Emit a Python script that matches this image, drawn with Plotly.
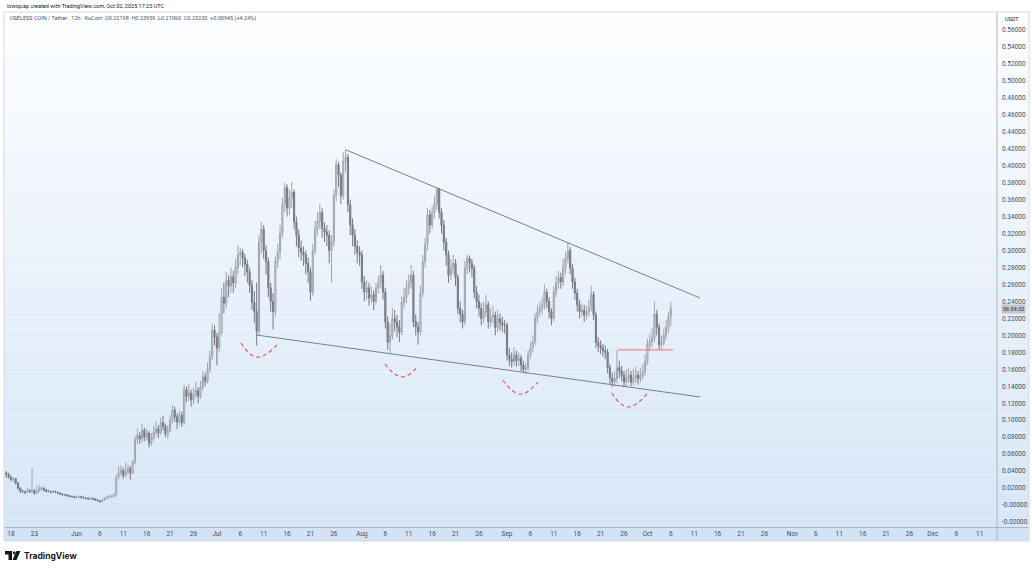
import pandas as pd
import plotly.graph_objects as go

# USELESS COIN / USDT, KuCoin, 12h candles
opens = [
    0.038, 0.036, 0.033, 0.030, 0.031, 0.026, 0.020, 0.016, 0.016, 0.015,
    0.017, 0.016, 0.017, 0.014, 0.016, 0.019, 0.020, 0.018, 0.016, 0.016,
    0.015, 0.016, 0.015, 0.014, 0.013, 0.012, 0.012, 0.011, 0.010, 0.010,
    0.009, 0.009, 0.010, 0.009, 0.008, 0.008, 0.007, 0.008, 0.007, 0.006,
    0.005, 0.004, 0.006, 0.008, 0.009, 0.010, 0.010, 0.012, 0.033, 0.038,
    0.041, 0.035, 0.040, 0.043, 0.038, 0.050, 0.077, 0.082, 0.078, 0.088,
    0.080, 0.085, 0.073, 0.079, 0.086, 0.090, 0.085, 0.097, 0.093, 0.084,
    0.088, 0.100, 0.112, 0.104, 0.098, 0.106, 0.097, 0.136, 0.128, 0.132,
    0.124, 0.130, 0.135, 0.128, 0.139, 0.151, 0.146, 0.160, 0.175, 0.206,
    0.198, 0.185, 0.203, 0.245, 0.238, 0.265, 0.258, 0.269, 0.262, 0.280,
    0.295, 0.298, 0.291, 0.284, 0.275, 0.259, 0.239, 0.228, 0.205, 0.310,
    0.325, 0.300, 0.287, 0.256, 0.240, 0.228, 0.287, 0.298, 0.320, 0.354,
    0.374, 0.350, 0.362, 0.369, 0.334, 0.318, 0.303, 0.298, 0.295, 0.285,
    0.275, 0.251, 0.300, 0.326, 0.335, 0.345, 0.326, 0.322, 0.318, 0.300,
    0.310, 0.365, 0.401, 0.389, 0.365, 0.405, 0.410, 0.354, 0.330, 0.318,
    0.305, 0.298, 0.295, 0.263, 0.251, 0.256, 0.244, 0.248, 0.240, 0.256,
    0.262, 0.271, 0.251, 0.216, 0.192, 0.200, 0.220, 0.216, 0.210, 0.204,
    0.239, 0.245, 0.256, 0.262, 0.271, 0.216, 0.210, 0.204, 0.250, 0.287,
    0.307, 0.342, 0.330, 0.345, 0.355, 0.372, 0.345, 0.330, 0.310, 0.295,
    0.271, 0.279, 0.285, 0.268, 0.232, 0.225, 0.216, 0.279, 0.291, 0.285,
    0.279, 0.251, 0.240, 0.232, 0.220, 0.228, 0.236, 0.216, 0.222, 0.224,
    0.209, 0.220, 0.215, 0.212, 0.212, 0.177, 0.172, 0.169, 0.177, 0.170,
    0.173, 0.165, 0.160, 0.162, 0.177, 0.185, 0.192, 0.220, 0.228, 0.232,
    0.236, 0.251, 0.240, 0.228, 0.220, 0.251, 0.262, 0.268, 0.263, 0.280,
    0.291, 0.300, 0.279, 0.263, 0.250, 0.236, 0.228, 0.230, 0.224, 0.228,
    0.232, 0.248, 0.224, 0.192, 0.188, 0.185, 0.182, 0.180, 0.162, 0.150,
    0.145, 0.149, 0.162, 0.158, 0.153, 0.145, 0.150, 0.153, 0.145, 0.150,
    0.153, 0.149, 0.153, 0.157, 0.169, 0.189, 0.193, 0.197, 0.225, 0.210,
    0.189, 0.192, 0.200, 0.210, 0.22198,
]
highs = [
    0.040, 0.038, 0.035, 0.033, 0.032, 0.027, 0.021, 0.018, 0.017, 0.020,
    0.019, 0.043, 0.019, 0.022, 0.024, 0.022, 0.021, 0.019, 0.018, 0.017,
    0.017, 0.017, 0.016, 0.015, 0.014, 0.013, 0.013, 0.012, 0.011, 0.011,
    0.010, 0.011, 0.011, 0.010, 0.009, 0.009, 0.009, 0.009, 0.008, 0.007,
    0.006, 0.007, 0.009, 0.011, 0.012, 0.012, 0.014, 0.036, 0.046, 0.047,
    0.044, 0.050, 0.048, 0.046, 0.053, 0.081, 0.090, 0.086, 0.096, 0.091,
    0.090, 0.087, 0.085, 0.093, 0.099, 0.094, 0.103, 0.105, 0.096, 0.094,
    0.106, 0.118, 0.116, 0.108, 0.111, 0.110, 0.142, 0.140, 0.143, 0.136,
    0.138, 0.145, 0.139, 0.146, 0.158, 0.156, 0.168, 0.182, 0.214, 0.212,
    0.203, 0.226, 0.255, 0.262, 0.275, 0.271, 0.280, 0.276, 0.290, 0.306,
    0.303, 0.302, 0.296, 0.289, 0.280, 0.265, 0.252, 0.262, 0.318, 0.334,
    0.330, 0.306, 0.292, 0.262, 0.250, 0.293, 0.308, 0.330, 0.362, 0.380,
    0.378, 0.372, 0.381, 0.372, 0.340, 0.325, 0.312, 0.305, 0.300, 0.292,
    0.280, 0.308, 0.335, 0.345, 0.355, 0.350, 0.333, 0.330, 0.324, 0.318,
    0.372, 0.408, 0.405, 0.392, 0.416, 0.419, 0.414, 0.360, 0.338, 0.325,
    0.312, 0.305, 0.300, 0.270, 0.265, 0.262, 0.258, 0.253, 0.262, 0.270,
    0.283, 0.276, 0.256, 0.222, 0.214, 0.232, 0.230, 0.224, 0.218, 0.246,
    0.256, 0.265, 0.272, 0.283, 0.276, 0.225, 0.216, 0.258, 0.295, 0.315,
    0.350, 0.348, 0.352, 0.364, 0.375, 0.374, 0.350, 0.336, 0.315, 0.300,
    0.290, 0.295, 0.290, 0.272, 0.240, 0.230, 0.288, 0.295, 0.294, 0.290,
    0.283, 0.258, 0.248, 0.238, 0.240, 0.248, 0.240, 0.232, 0.235, 0.228,
    0.230, 0.226, 0.222, 0.218, 0.215, 0.185, 0.180, 0.186, 0.182, 0.180,
    0.177, 0.170, 0.168, 0.182, 0.192, 0.200, 0.226, 0.236, 0.240, 0.245,
    0.260, 0.255, 0.245, 0.232, 0.258, 0.270, 0.276, 0.274, 0.290, 0.298,
    0.310, 0.304, 0.284, 0.268, 0.255, 0.242, 0.238, 0.236, 0.235, 0.242,
    0.258, 0.252, 0.228, 0.198, 0.194, 0.190, 0.188, 0.184, 0.166, 0.156,
    0.158, 0.183, 0.170, 0.164, 0.158, 0.160, 0.162, 0.158, 0.160, 0.163,
    0.158, 0.162, 0.166, 0.178, 0.196, 0.202, 0.208, 0.240, 0.230, 0.214,
    0.200, 0.208, 0.218, 0.228, 0.23959,
]
lows = [
    0.032, 0.031, 0.028, 0.027, 0.024, 0.018, 0.014, 0.014, 0.013, 0.014,
    0.014, 0.014, 0.012, 0.013, 0.015, 0.017, 0.016, 0.015, 0.015, 0.014,
    0.014, 0.014, 0.013, 0.012, 0.011, 0.011, 0.010, 0.009, 0.009, 0.008,
    0.008, 0.008, 0.008, 0.007, 0.007, 0.006, 0.006, 0.006, 0.005, 0.004,
    0.003, 0.003, 0.005, 0.007, 0.008, 0.008, 0.009, 0.011, 0.030, 0.034,
    0.031, 0.033, 0.036, 0.030, 0.036, 0.048, 0.072, 0.072, 0.074, 0.075,
    0.076, 0.068, 0.070, 0.076, 0.082, 0.079, 0.083, 0.088, 0.080, 0.078,
    0.086, 0.096, 0.098, 0.090, 0.094, 0.092, 0.095, 0.121, 0.123, 0.116,
    0.119, 0.126, 0.120, 0.125, 0.135, 0.140, 0.143, 0.156, 0.171, 0.188,
    0.165, 0.180, 0.200, 0.226, 0.232, 0.245, 0.250, 0.250, 0.256, 0.272,
    0.283, 0.280, 0.270, 0.262, 0.250, 0.230, 0.215, 0.188, 0.200, 0.296,
    0.290, 0.272, 0.245, 0.228, 0.207, 0.222, 0.280, 0.290, 0.315, 0.345,
    0.340, 0.342, 0.350, 0.325, 0.305, 0.292, 0.288, 0.282, 0.272, 0.262,
    0.241, 0.246, 0.295, 0.318, 0.325, 0.315, 0.310, 0.305, 0.285, 0.262,
    0.305, 0.358, 0.375, 0.355, 0.360, 0.392, 0.345, 0.318, 0.305, 0.295,
    0.285, 0.282, 0.255, 0.240, 0.242, 0.235, 0.238, 0.230, 0.236, 0.250,
    0.255, 0.242, 0.208, 0.183, 0.179, 0.195, 0.205, 0.198, 0.192, 0.200,
    0.232, 0.238, 0.248, 0.255, 0.210, 0.200, 0.189, 0.200, 0.245, 0.280,
    0.300, 0.320, 0.325, 0.338, 0.348, 0.338, 0.320, 0.300, 0.282, 0.262,
    0.265, 0.272, 0.258, 0.225, 0.215, 0.208, 0.212, 0.272, 0.274, 0.268,
    0.244, 0.232, 0.222, 0.212, 0.215, 0.222, 0.208, 0.210, 0.214, 0.200,
    0.204, 0.206, 0.204, 0.202, 0.170, 0.164, 0.162, 0.165, 0.163, 0.164,
    0.158, 0.156, 0.154, 0.158, 0.172, 0.180, 0.188, 0.214, 0.222, 0.225,
    0.230, 0.232, 0.220, 0.212, 0.216, 0.245, 0.255, 0.255, 0.258, 0.272,
    0.285, 0.272, 0.255, 0.242, 0.228, 0.220, 0.222, 0.216, 0.218, 0.222,
    0.228, 0.218, 0.185, 0.180, 0.178, 0.175, 0.172, 0.155, 0.142, 0.139,
    0.140, 0.144, 0.150, 0.146, 0.139, 0.140, 0.144, 0.140, 0.141, 0.144,
    0.142, 0.144, 0.148, 0.152, 0.165, 0.182, 0.186, 0.192, 0.200, 0.183,
    0.184, 0.188, 0.195, 0.203, 0.2106,
]
closes = [
    0.036, 0.033, 0.030, 0.031, 0.026, 0.020, 0.016, 0.016, 0.015, 0.017,
    0.016, 0.017, 0.014, 0.016, 0.019, 0.020, 0.018, 0.016, 0.016, 0.015,
    0.016, 0.015, 0.014, 0.013, 0.012, 0.012, 0.011, 0.010, 0.010, 0.009,
    0.009, 0.010, 0.009, 0.008, 0.008, 0.007, 0.008, 0.007, 0.006, 0.005,
    0.004, 0.006, 0.008, 0.009, 0.010, 0.010, 0.012, 0.033, 0.038, 0.041,
    0.035, 0.040, 0.043, 0.038, 0.050, 0.077, 0.082, 0.078, 0.088, 0.080,
    0.085, 0.073, 0.079, 0.086, 0.090, 0.085, 0.097, 0.093, 0.084, 0.088,
    0.100, 0.112, 0.104, 0.098, 0.106, 0.097, 0.136, 0.128, 0.132, 0.124,
    0.130, 0.135, 0.128, 0.139, 0.151, 0.146, 0.160, 0.175, 0.206, 0.198,
    0.185, 0.203, 0.245, 0.238, 0.265, 0.258, 0.269, 0.262, 0.280, 0.295,
    0.298, 0.291, 0.284, 0.275, 0.259, 0.239, 0.228, 0.205, 0.310, 0.325,
    0.300, 0.287, 0.256, 0.240, 0.228, 0.287, 0.298, 0.320, 0.354, 0.374,
    0.350, 0.362, 0.369, 0.334, 0.318, 0.303, 0.298, 0.295, 0.285, 0.275,
    0.251, 0.300, 0.326, 0.335, 0.345, 0.326, 0.322, 0.318, 0.300, 0.310,
    0.365, 0.401, 0.389, 0.365, 0.405, 0.410, 0.354, 0.330, 0.318, 0.305,
    0.298, 0.295, 0.263, 0.251, 0.256, 0.244, 0.248, 0.240, 0.256, 0.262,
    0.271, 0.251, 0.216, 0.192, 0.200, 0.220, 0.216, 0.210, 0.204, 0.239,
    0.245, 0.256, 0.262, 0.271, 0.216, 0.210, 0.204, 0.250, 0.287, 0.307,
    0.342, 0.330, 0.345, 0.355, 0.372, 0.345, 0.330, 0.310, 0.295, 0.271,
    0.279, 0.285, 0.268, 0.232, 0.225, 0.216, 0.279, 0.291, 0.285, 0.279,
    0.251, 0.240, 0.232, 0.220, 0.228, 0.236, 0.216, 0.222, 0.224, 0.209,
    0.220, 0.215, 0.212, 0.212, 0.177, 0.172, 0.169, 0.177, 0.170, 0.173,
    0.165, 0.160, 0.162, 0.177, 0.185, 0.192, 0.220, 0.228, 0.232, 0.236,
    0.251, 0.240, 0.228, 0.220, 0.251, 0.262, 0.268, 0.263, 0.280, 0.291,
    0.300, 0.279, 0.263, 0.250, 0.236, 0.228, 0.230, 0.224, 0.228, 0.232,
    0.248, 0.224, 0.192, 0.188, 0.185, 0.182, 0.180, 0.162, 0.150, 0.145,
    0.149, 0.162, 0.158, 0.153, 0.145, 0.150, 0.153, 0.145, 0.150, 0.153,
    0.149, 0.153, 0.157, 0.169, 0.189, 0.193, 0.197, 0.225, 0.210, 0.189,
    0.192, 0.200, 0.210, 0.22198, 0.2323,
]
first_candle = "2025-05-17 00:00"
countdown = "06:34:33"

# drawings on the chart
upper_trend_x = ["2025-07-28 14:24", "2025-10-12 05:00"]
upper_trend_y = [0.4186, 0.2441]
lower_trend_x = ["2025-07-09 08:00", "2025-10-12 05:00"]
lower_trend_y = [0.2005, 0.1274]
level_x = ["2025-09-24 17:00", "2025-10-06 12:00"]
level_y = [0.1828, 0.1828]
arcs_x = [
    ["2025-07-06 03:36", "2025-07-09 13:40", "2025-07-13 20:10"],
    ["2025-08-05 22:00", "2025-08-09 13:00", "2025-08-12 23:20"],
    ["2025-08-31 03:00", "2025-09-03 18:30", "2025-09-07 14:00"],
    ["2025-09-23 09:00", "2025-09-26 19:00", "2025-09-30 21:00"],
]
arcs_y = [
    [0.1910, 0.1745, 0.1887],
    [0.1663, 0.1510, 0.1639],
    [0.1474, 0.1309, 0.1450],
    [0.1321, 0.1156, 0.1309],
]

x_tick_dates = [
    "2025-05-18", "2025-05-23", "2025-06-01", "2025-06-06", "2025-06-11",
    "2025-06-16", "2025-06-21", "2025-06-26", "2025-07-01", "2025-07-06",
    "2025-07-11", "2025-07-16", "2025-07-21", "2025-07-26", "2025-08-01",
    "2025-08-06", "2025-08-11", "2025-08-16", "2025-08-21", "2025-08-26",
    "2025-09-01", "2025-09-06", "2025-09-11", "2025-09-16", "2025-09-21",
    "2025-09-26", "2025-10-01", "2025-10-06", "2025-10-11", "2025-10-16",
    "2025-10-21", "2025-10-26", "2025-11-01", "2025-11-06", "2025-11-11",
    "2025-11-16", "2025-11-21", "2025-11-26", "2025-12-01", "2025-12-06",
    "2025-12-11",
]
x_tick_text = [
    "18", "23", "Jun", "6", "11", "16", "21", "26", "Jul", "6", "11", "16",
    "21", "26", "Aug", "6", "11", "16", "21", "26", "Sep", "6", "11", "16",
    "21", "26", "Oct", "6", "11", "16", "21", "26", "Nov", "6", "11", "16",
    "21", "26", "Dec", "6", "11",
]
y_tick_vals = [0.56, 0.54, 0.52, 0.50, 0.48, 0.46, 0.44, 0.42, 0.40, 0.38,
               0.36, 0.34, 0.32, 0.30, 0.28, 0.26, 0.24, 0.22, 0.20, 0.18,
               0.16, 0.14, 0.12, 0.10, 0.08, 0.06, 0.04, 0.02, 0.0, -0.02]
y_tick_text = ["0.56000", "0.54000", "0.52000", "0.50000", "0.48000",
               "0.46000", "0.44000", "0.42000", "0.40000", "0.38000",
               "0.36000", "0.34000", "0.32000", "0.30000", "0.28000",
               "0.26000", "0.24000", "0.22000", "0.20000", "0.18000",
               "0.16000", "0.14000", "0.12000", "0.10000", "0.08000",
               "0.06000", "0.04000", "0.02000", "-0.00000", "-0.02000"]

W, H = 1032, 568
ML, MR, MT, MB = 5, 35, 12, 41
PW, PH = W - ML - MR, H - MT - MB


def px(x):
    return (x - ML) / PW


def py(y):
    return (H - MB - y) / PH


times = pd.date_range(first_candle, periods=len(closes), freq="12h")

fig = go.Figure()
fig.add_trace(go.Candlestick(
    x=times, open=opens, high=highs, low=lows, close=closes,
    increasing=dict(fillcolor="#dcdfe5", line=dict(color="#a0a3ab", width=1)),
    decreasing=dict(fillcolor="#868993", line=dict(color="#767983", width=1)),
    whiskerwidth=0, hoverinfo="skip", showlegend=False,
))

for xs, ys in [(upper_trend_x, upper_trend_y), (lower_trend_x, lower_trend_y)]:
    fig.add_trace(go.Scatter(x=xs, y=ys, mode="lines", hoverinfo="skip",
                             line=dict(color="#7c7f88", width=1), showlegend=False))
fig.add_trace(go.Scatter(x=level_x, y=level_y, mode="lines", hoverinfo="skip",
                         line=dict(color="#ec8a8a", width=1.2), showlegend=False))
for xs, ys in zip(arcs_x, arcs_y):
    fig.add_trace(go.Scatter(x=xs, y=ys, mode="lines", hoverinfo="skip",
                             line=dict(color="#e55c5c", width=1.2, dash="4px,3px",
                                       shape="spline", smoothing=1.3),
                             showlegend=False))

# background: soft white-to-blue gradient
shapes = []
n = 60
top, bot = (253, 254, 255), (214, 230, 247)
for k in range(n):
    t = (k + 0.5) / n
    c = tuple(round(top[j] + (bot[j] - top[j]) * t) for j in range(3))
    shapes.append(dict(type="rect", xref="paper", yref="paper", layer="below",
                       x0=px(4), x1=px(1029), y0=py(12 + (k + 1) * PH / n),
                       y1=py(12 + k * PH / n),
                       line=dict(width=0), fillcolor="rgb(%d,%d,%d)" % c))
# time scale band
shapes.append(dict(type="rect", xref="paper", yref="paper", layer="below",
                   x0=px(4), x1=px(1029), y0=py(541), y1=py(527),
                   line=dict(width=0), fillcolor="#d3e3f5"))
shapes.append(dict(type="line", xref="paper", yref="paper",
                   x0=px(4), x1=px(1029), y0=py(527.5), y1=py(527.5),
                   line=dict(color="#a9b6c5", width=1)))
shapes.append(dict(type="line", xref="paper", yref="paper",
                   x0=px(997), x1=px(997), y0=py(541), y1=py(12),
                   line=dict(color="#a9b6c5", width=1)))
shapes.append(dict(type="rect", xref="paper", yref="paper",
                   x0=px(4), x1=px(1029), y0=py(541), y1=py(12),
                   line=dict(color="#d4dae2", width=1)))
# TradingView logo mark
shapes.append(dict(type="rect", xref="paper", yref="paper", x0=px(5), x1=px(12),
                   y0=py(554.5), y1=py(551), fillcolor="#131722", line=dict(width=0)))
shapes.append(dict(type="rect", xref="paper", yref="paper", x0=px(8.5), x1=px(12),
                   y0=py(560), y1=py(551), fillcolor="#131722", line=dict(width=0)))
shapes.append(dict(type="circle", xref="paper", yref="paper", x0=px(12.8), x1=px(15.6),
                   y0=py(554.4), y1=py(551.6), fillcolor="#131722", line=dict(width=0)))
shapes.append(dict(type="path", xref="paper", yref="paper",
                   path="M %f,%f L %f,%f L %f,%f L %f,%f Z" % (
                       px(16.5), py(551), px(20.5), py(551),
                       px(16.5), py(560), px(12.5), py(560)),
                   fillcolor="#131722", line=dict(width=0)))

nb = "\u00a0"
legend_text = (
    "USELESS COIN / Tether · 12h · KuCoin" + nb * 2 + "O0.22198" + nb * 2 +
    "H0.23959" + nb * 2 + "L0.21060" + nb * 2 + "C0.23230" + nb * 2 +
    "+0.00945 (+4.24%)"
)
font = "Roboto, Arial, sans-serif"
annotations = [
    dict(text="lowiqcap created with TradingView.com, Oct 02, 2025 17:25 UTC",
         xref="paper", yref="paper", x=px(5), y=py(6), xanchor="left", yanchor="middle",
         showarrow=False, font=dict(size=5.5, color="#131722", family=font)),
    dict(text=legend_text, xref="paper", yref="paper", x=px(8), y=py(18.5),
         xanchor="left", yanchor="middle", showarrow=False,
         font=dict(size=5.5, color="#50535e", family=font)),
    dict(text="USDT", xref="paper", yref="paper", x=px(1003), y=py(19),
         xanchor="left", yanchor="middle", showarrow=False,
         font=dict(size=5.5, color="#131722", family=font)),
    dict(text=countdown, xref="paper", yref="y", x=px(1013),
         y=closes[-1], xanchor="center", yanchor="middle", yshift=-1, showarrow=False,
         bgcolor="#c2c5cc", borderpad=1, align="center",
         font=dict(size=5.5, color="#2a2e39", family=font)),
    dict(text="<b>TradingView</b>", xref="paper", yref="paper", x=px(22), y=py(555.5),
         xanchor="left", yanchor="middle", showarrow=False,
         font=dict(size=8.5, color="#131722", family="Inter, Roboto, sans-serif")),
]

fig.update_layout(
    width=W, height=H,
    margin=dict(l=ML, r=MR, t=MT, b=MB),
    paper_bgcolor="white", plot_bgcolor="rgba(0,0,0,0)",
    showlegend=False, hovermode=False,
    shapes=shapes, annotations=annotations,
    font=dict(family=font, size=6.5, color="#4a4d57"),
    xaxis=dict(type="date", range=["2025-05-16 17:20", "2025-12-14 17:00"],
               tickvals=x_tick_dates, ticktext=x_tick_text, tickangle=0,
               showgrid=False, zeroline=False, showline=False, ticks="",
               ticklabelstandoff=1, rangeslider=dict(visible=False), fixedrange=True,
               tickfont=dict(size=6.5, color="#4a4d57")),
    yaxis=dict(side="right", range=[-0.0259, 0.5812],
               tickvals=y_tick_vals, ticktext=y_tick_text,
               showgrid=False, zeroline=False, showline=False, ticks="",
               ticklabelstandoff=4, fixedrange=True,
               tickfont=dict(size=6.5, color="#4a4d57")),
)

fig.write_html("out.html", config=dict(displayModeBar=False),
               post_script="document.body.style.margin='0px';")
